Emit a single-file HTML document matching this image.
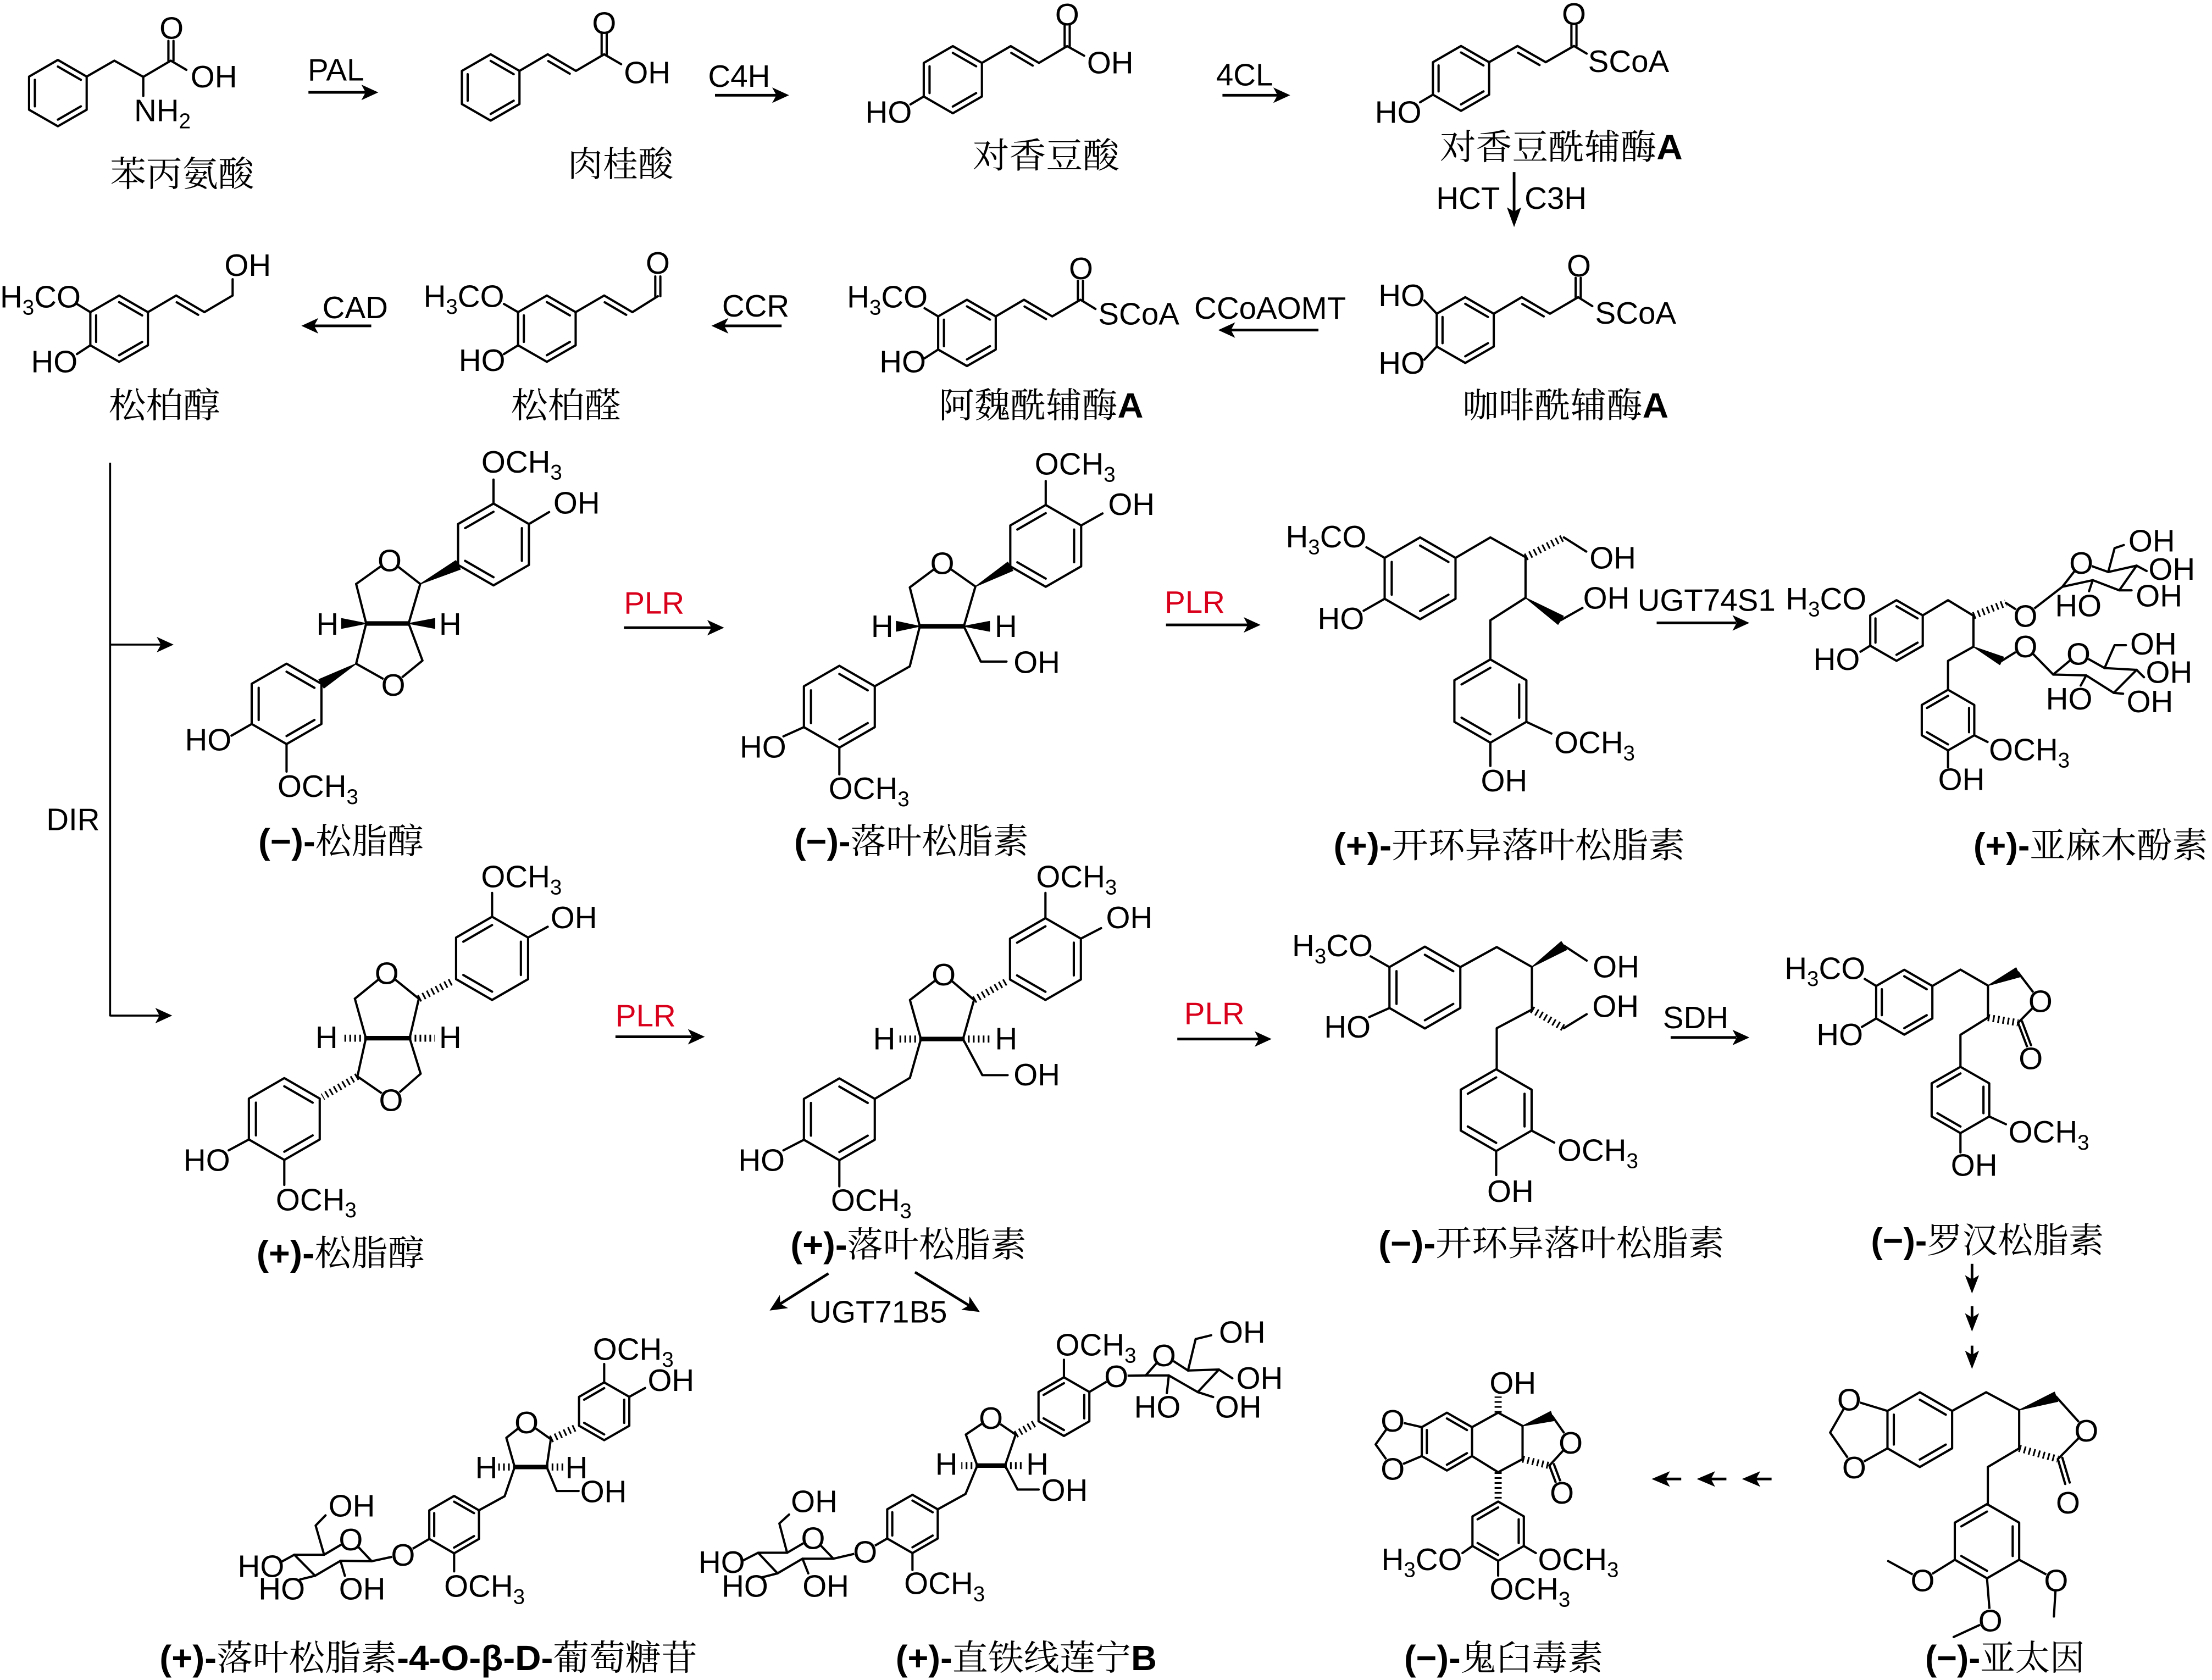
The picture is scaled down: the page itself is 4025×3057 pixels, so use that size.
<!DOCTYPE html>
<html><head><meta charset="utf-8">
<style>
html,body{margin:0;padding:0;background:#fff;}
svg{display:block;}
.b{stroke:#000;stroke-width:1.6;fill:none;stroke-linejoin:round;stroke-linecap:round;}
.bb{stroke:#000;stroke-width:3.2;fill:none;}
.ar{stroke:#000;stroke-width:1.9;fill:none;}
.hd{fill:#000;stroke:none;}
.w{fill:#000;stroke:#000;stroke-width:0.6;stroke-linejoin:round;}
.hs{stroke:#000;stroke-width:5;stroke-dasharray:1.2 2.3;fill:none;}
.t{font-family:"Liberation Sans",Arial,sans-serif;font-size:22px;fill:#000;}
.o{font-family:"Liberation Sans",Arial,sans-serif;font-size:22px;fill:#000;text-anchor:middle;}
.oc{fill:#fff;stroke:none;}
.s{font-size:15px;}
.c{font-family:"Liberation Sans","Noto Serif CJK SC",serif;font-size:25px;fill:#000;}
.r{fill:#d9001b;}
</style></head><body>
<svg width="4025" height="3057" viewBox="0 0 1567 1191" preserveAspectRatio="none" xmlns="http://www.w3.org/2000/svg">
<rect x="0" y="0" width="1567" height="1191" fill="#fff"/>

<!-- ===== Row 1 ===== -->
<!-- Phenylalanine -->
<polygon class="b" points="41,42.5 61.4,54.3 61.4,77.8 41,89.5 20.6,77.8 20.6,54.3"/>
<path class="b" d="M41,47.2L57.3,56.6M24.7,56.6L24.7,75.4M57.3,75.4L41,84.8"/>
<polyline class="b" points="61.4,54.3 81,43 101.5,54.5 121,43 132,49.5"/>
<path class="b" d="M119.3,43V29M122.9,43V29M101.5,54.5V68"/>
<text class="t" x="121.5" y="27.5" text-anchor="middle">O</text>
<text class="t" x="135" y="62">OH</text>
<text class="t" x="95" y="86">NH<tspan class="s" dy="5">2</tspan></text>
<text class="c" x="78" y="132" textLength="102" lengthAdjust="spacingAndGlyphs">苯丙氨酸</text>

<!-- PAL -->
<path class="ar" d="M218.5,65.5H259"/>
<path class="hd" d="M268,65.5L256,60L259,65.5L256,71Z"/>
<text class="t" x="218" y="57">PAL</text>

<!-- Cinnamic acid -->
<polygon class="b" points="347.6,38.5 368,50.25 368,73.75 347.6,85.5 327.2,73.75 327.2,50.25"/>
<path class="b" d="M347.6,43.2L363.9,52.6M331.3,52.6L331.3,71.4M363.9,71.4L347.6,80.8"/>
<polyline class="b" points="368,50.25 388,38.5 408,50.25 428,38.5 440,45.5"/>
<path class="b" d="M388.4,43.3L403.6,52.25M426.2,38.5V24M429.8,38.5V24"/>
<text class="t" x="428" y="24" text-anchor="middle">O</text>
<text class="t" x="442" y="59">OH</text>
<text class="c" x="402" y="125" textLength="75" lengthAdjust="spacingAndGlyphs">肉桂酸</text>

<!-- C4H -->
<path class="ar" d="M506.5,67.5H550"/>
<path class="hd" d="M559,67.5L547,62L550,67.5L547,73Z"/>
<text class="t" x="501.6" y="61.5">C4H</text>

<!-- p-Coumaric acid -->
<polygon class="b" points="675,32.7 695.6,44.6 695.6,68.4 675,80.3 654.4,68.4 654.4,44.6"/>
<path class="b" d="M675,37.5L691.5,47M658.5,47L658.5,66M691.5,66L675,75.5"/>
<path class="b" d="M654.4,68.4L645,74"/>
<text class="t" x="613" y="87">HO</text>
<polyline class="b" points="695.6,44.6 716,32.7 736,44.6 756,32.7 768,39.5"/>
<path class="b" d="M716.4,37.5L731.6,46.5M754.2,32.7V18M757.8,32.7V18"/>
<text class="t" x="756" y="18" text-anchor="middle">O</text>
<text class="t" x="770" y="52">OH</text>
<text class="c" x="689" y="119" textLength="104" lengthAdjust="spacingAndGlyphs">对香豆酸</text>

<!-- 4CL -->
<path class="ar" d="M866,67.5H905"/>
<path class="hd" d="M914,67.5L902,62L905,67.5L902,73Z"/>
<text class="t" x="861.5" y="60.5">4CL</text>

<!-- p-Coumaroyl CoA -->
<polygon class="b" points="1035,32.6 1054.9,44.1 1054.9,67.1 1035,78.6 1015.1,67.1 1015.1,44.1"/>
<path class="b" d="M1035,37.2L1050.9,46.4M1019.1,46.4L1019.1,64.8M1050.9,64.8L1035,74"/>
<path class="b" d="M1015.1,67.1L1006,72.5"/>
<text class="t" x="974" y="87">HO</text>
<polyline class="b" points="1054.9,44.1 1075,32.6 1095,44.1 1115,32.6 1124,38"/>
<path class="b" d="M1075.4,37.4L1090.6,46.1M1113.2,32.6V18M1116.8,32.6V18"/>
<text class="t" x="1115" y="17.5" text-anchor="middle">O</text>
<text class="t" x="1125" y="51">SCoA</text>
<text class="c" x="1020" y="113" textLength="172" lengthAdjust="spacingAndGlyphs">对香豆酰辅酶<tspan font-weight="bold">A</tspan></text>

<!-- HCT / C3H -->
<path class="ar" d="M1072.6,122V150"/>
<path class="hd" d="M1072.6,161L1067.5,147L1072.6,150L1077.7,147Z"/>
<text class="t" x="1017.4" y="148">HCT</text>
<text class="t" x="1080" y="148">C3H</text>

<!-- Caffeoyl CoA -->
<polygon class="b" points="1038,210.7 1058.2,222.4 1058.2,245.7 1038,257.3 1017.8,245.7 1017.8,222.4"/>
<path class="b" d="M1038,215.4L1054.1,224.7M1021.9,224.7L1021.9,243.3M1054.1,243.3L1038,252.6"/>
<path class="b" d="M1017.8,222.4L1009,213M1017.8,245.7L1009,255"/>
<text class="t" x="976.5" y="217">HO</text>
<text class="t" x="976.5" y="265">HO</text>
<polyline class="b" points="1058.2,222.4 1078,210.7 1098,222.4 1118,210.7 1128,217"/>
<path class="b" d="M1078.4,215.5L1093.6,224.3M1116.2,210.7V197M1119.8,210.7V197"/>
<text class="t" x="1118.5" y="196" text-anchor="middle">O</text>
<text class="t" x="1130" y="229.5">SCoA</text>
<text class="c" x="1036" y="296" textLength="146" lengthAdjust="spacingAndGlyphs">咖啡酰辅酶<tspan font-weight="bold">A</tspan></text>

<!-- CCoAOMT -->
<path class="ar" d="M872,234H934"/>
<path class="hd" d="M863,234L875,228.5L872,234L875,239.5Z"/>
<text class="t" x="846" y="226">CCoAOMT</text>

<!-- Feruloyl CoA -->
<polygon class="b" points="685,212.5 705.4,224.3 705.4,247.8 685,259.5 664.6,247.8 664.6,224.3"/>
<path class="b" d="M685,217.2L701.3,226.6M668.7,226.6L668.7,245.4M701.3,245.4L685,254.8"/>
<path class="b" d="M664.6,224.3L655,218.5M664.6,247.8L655,254"/>
<text class="t" x="600" y="218">H<tspan class="s" dy="5">3</tspan><tspan dy="-5">CO</tspan></text>
<text class="t" x="623" y="264">HO</text>
<polyline class="b" points="705.4,224.3 725.4,212.5 745.4,224.3 765.4,212.5 776,219"/>
<path class="b" d="M725.8,217.3L741,226.2M763.6,212.5V199M767.2,212.5V199"/>
<text class="t" x="765.8" y="198" text-anchor="middle">O</text>
<text class="t" x="778" y="230">SCoA</text>
<text class="c" x="665" y="296" textLength="145" lengthAdjust="spacingAndGlyphs">阿魏酰辅酶<tspan font-weight="bold">A</tspan></text>

<!-- CCR -->
<path class="ar" d="M513,231H553.7"/>
<path class="hd" d="M504,231L516,225.5L513,231L516,236.5Z"/>
<text class="t" x="511.5" y="224.5">CCR</text>

<!-- Coniferaldehyde -->
<polygon class="b" points="387.4,209.5 407.8,221.3 407.8,244.8 387.4,256.5 367,244.8 367,221.3"/>
<path class="b" d="M387.4,214.2L403.7,223.6M371.1,223.6L371.1,242.4M403.7,242.4L387.4,251.8"/>
<path class="b" d="M367,221.3L357,215.5M367,244.8L357,251"/>
<text class="t" x="300" y="217.5">H<tspan class="s" dy="5">3</tspan><tspan dy="-5">CO</tspan></text>
<text class="t" x="325" y="263">HO</text>
<polyline class="b" points="407.8,221.3 428,209.5 448,221.3 466,210"/>
<path class="b" d="M428.4,214.3L443.6,223.2M464.2,210V196M467.8,210V196"/>
<text class="t" x="466" y="194" text-anchor="middle">O</text>
<text class="c" x="362" y="296" textLength="78" lengthAdjust="spacingAndGlyphs">松柏醛</text>

<!-- CAD -->
<path class="ar" d="M222.5,231H263"/>
<path class="hd" d="M213.5,231L225.5,225.5L222.5,231L225.5,236.5Z"/>
<text class="t" x="228.4" y="225.5">CAD</text>

<!-- Coniferyl alcohol -->
<polygon class="b" points="84.4,209.5 104.8,221.3 104.8,244.8 84.4,256.5 64,244.8 64,221.3"/>
<path class="b" d="M84.4,214.2L100.7,223.6M68.1,223.6L68.1,242.4M100.7,242.4L84.4,251.8"/>
<path class="b" d="M64,221.3L54.5,215.5M64,244.8L54.5,251"/>
<text class="t" x="0" y="218">H<tspan class="s" dy="5">3</tspan><tspan dy="-5">CO</tspan></text>
<text class="t" x="22" y="264">HO</text>
<polyline class="b" points="104.8,221.3 124.8,209.5 144.8,221.3 164.8,209.5 164.8,198"/>
<path class="b" d="M125.2,214.3L140.4,223.2"/>
<text class="t" x="159" y="195.5">OH</text>
<text class="c" x="77" y="296" textLength="79" lengthAdjust="spacingAndGlyphs">松柏醇</text>

<!-- ===== DIR bracket ===== -->
<path class="ar" style="stroke-width:1.4" d="M78,328V720.5M78,457H114M78,720H113"/>
<path class="hd" d="M123,457L111,451.5L114,457L111,462.5Z"/>
<path class="hd" d="M122,720L110,714.5L113,720L110,725.5Z"/>
<text class="t" x="32.8" y="588.5">DIR</text>

<!-- ===== Row 2 ===== -->
<!-- (-)-Pinoresinol -->
<polygon class="b" points="349.6,357 374.7,371.5 374.7,400.5 349.6,415 324.5,400.5 324.5,371.5"/>
<path class="b" d="M329.5,374.4L349.6,362.8M369.7,374.4L369.7,397.6M349.6,409.2L329.5,397.6"/>
<path class="b" d="M349.6,357V340M374.7,371.5L389,363"/>
<text class="t" x="341" y="335">OCH<tspan class="s" dy="5">3</tspan></text>
<text class="t" x="392" y="364">OH</text>
<polyline class="b" points="252.3,414 276,397 297.7,414 289.5,442"/>
<polyline class="b" points="252.3,414 259.4,442 252.3,470.5 278.6,485.3 299.3,468.3 289.5,442"/>
<path class="bb" d="M259.4,442H289.5"/>
<polygon class="w" points="297.7,414 326.1,403.6 322.9,397.4"/>
<polygon class="w" points="259.4,442 242,438.5 242,445.5"/>
<polygon class="w" points="289.5,442 308,438.5 308,445.5"/>
<polygon class="w" points="252.3,470.5 225.9,481.7 229.5,487.8"/>
<circle class="oc" cx="276" cy="397" r="8"/><text class="o" x="276" y="405">O</text>
<circle class="oc" cx="278.6" cy="485.3" r="8"/><text class="o" x="278.6" y="493.3">O</text>
<text class="t" x="224" y="450">H</text>
<text class="t" x="311" y="450">H</text>
<polygon class="b" points="203,470.5 227.7,484.75 227.7,513.25 203,527.5 178.3,513.25 178.3,484.75"/>
<path class="b" d="M203,476.2L222.75,487.6M183.25,487.6L183.25,510.4M222.75,510.4L203,521.8"/>
<path class="b" d="M178.3,513.25L164,521.5M203,527.5V547"/>
<text class="t" x="131" y="532">HO</text>
<text class="t" x="196.6" y="565">OCH<tspan class="s" dy="5">3</tspan></text>
<text class="c" x="183" y="605" textLength="117" lengthAdjust="spacingAndGlyphs"><tspan font-weight="bold">(−)-</tspan>松脂醇</text>

<!-- PLR 1 -->
<text class="t r" x="442" y="435">PLR</text>
<path class="ar" d="M442,445H504"/>
<path class="hd" d="M513,445L501,439.5L504,445L501,450.5Z"/>

<!-- (-)-Lariciresinol -->
<polygon class="b" points="740.8,358 765.9,372.5 765.9,401.5 740.8,416 715.7,401.5 715.7,372.5"/>
<path class="b" d="M720.7,375.4L740.8,363.8M760.9,375.4L760.9,398.6M740.8,410.2L720.7,398.6"/>
<path class="b" d="M740.8,358V341M765.9,372.5L781,364"/>
<text class="t" x="733" y="336.5">OCH<tspan class="s" dy="5">3</tspan></text>
<text class="t" x="785" y="365">OH</text>
<polyline class="b" points="651.6,444 644.5,416.4 667.5,399.2 691,415.8 682.8,444"/>
<path class="bb" d="M651.6,444H682.8"/>
<polygon class="w" points="691,415.8 717.5,404.5 713.9,398.5"/>
<polygon class="w" points="651.6,444 635,440.5 635,447.5"/>
<polygon class="w" points="682.8,444 701,440.5 701,447.5"/>
<circle class="oc" cx="667.5" cy="399" r="8"/><text class="o" x="667.5" y="407">O</text>
<text class="t" x="617" y="451.5">H</text>
<text class="t" x="704.6" y="451.5">H</text>
<polyline class="b" points="682.8,444 694.8,469 713,469"/>
<text class="t" x="718" y="477">OH</text>
<polyline class="b" points="651.6,444 644.5,472.4 619.7,486.5"/>
<polygon class="b" points="594.6,472 619.7,486.5 619.7,515.5 594.6,530 569.5,515.5 569.5,486.5"/>
<path class="b" d="M594.6,477.8L614.7,489.4M574.5,489.4L574.5,512.6M614.7,512.6L594.6,524.2"/>
<path class="b" d="M569.5,515.5L555,522M594.6,530V549"/>
<text class="t" x="524" y="537">HO</text>
<text class="t" x="587" y="566.5">OCH<tspan class="s" dy="5">3</tspan></text>
<text class="c" x="562.6" y="605" textLength="166" lengthAdjust="spacingAndGlyphs"><tspan font-weight="bold">(−)-</tspan>落叶松脂素</text>

<!-- PLR 2 -->
<text class="t r" x="825" y="434.5">PLR</text>
<path class="ar" d="M826,443H884"/>
<path class="hd" d="M893,443L881,437.5L884,443L881,448.5Z"/>

<!-- (+)-Secoisolariciresinol -->
<polygon class="b" points="1006,381 1031.1,395.5 1031.1,424.5 1006,439 980.9,424.5 980.9,395.5"/>
<path class="b" d="M1006,386.8L1026.1,398.4M985.9,398.4L985.9,421.6M1026.1,421.6L1006,433.2"/>
<path class="b" d="M980.9,395.5L968,388M980.9,424.5L966,433"/>
<text class="t" x="910.8" y="388">H<tspan class="s" dy="5">3</tspan><tspan dy="-5">CO</tspan></text>
<text class="t" x="933.4" y="446">HO</text>
<polyline class="b" points="1031.1,395.5 1055.8,381 1080.7,395 1080.7,423.8 1055.8,439.7 1055.8,467.5"/>
<path class="hs" d="M1080.7,395L1107.9,381"/>
<path class="b" d="M1107.9,381L1123.7,391"/>
<text class="t" x="1126" y="403">OH</text>
<polygon class="w" points="1080.7,423.8 1103.7,442.65 1107.5,436.75"/>
<path class="b" d="M1105.6,439.7L1121,431"/>
<text class="t" x="1121.5" y="431.5">OH</text>
<polygon class="b" points="1055.8,467.5 1081.3,482.25 1081.3,511.75 1055.8,526.5 1030.3,511.75 1030.3,482.25"/>
<path class="b" d="M1035.4,485.2L1055.8,473.4M1076.2,485.2L1076.2,508.8M1055.8,520.6L1035.4,508.8"/>
<path class="b" d="M1081.3,511.75L1099,520M1055.8,526.5V543"/>
<text class="t" x="1101" y="534">OCH<tspan class="s" dy="5">3</tspan></text>
<text class="t" x="1049" y="561">OH</text>
<text class="c" x="944.7" y="608" textLength="249" lengthAdjust="spacingAndGlyphs"><tspan font-weight="bold">(+)-</tspan>开环异落叶松脂素</text>

<!-- UGT74S1 -->
<text class="t" x="1160" y="433">UGT74S1</text>
<path class="ar" d="M1173.6,441.6H1230"/>
<path class="hd" d="M1239.3,441.6L1227.3,436.1L1230.3,441.6L1227.3,447.1Z"/>

<!-- (+)-Secoisolariciresinol diglucoside -->
<text class="t" x="1265" y="432">H<tspan class="s" dy="5">3</tspan><tspan dy="-5">CO</tspan></text>
<polygon class="b" points="1343.5,425.5 1362.1,436.25 1362.1,457.75 1343.5,468.5 1324.9,457.75 1324.9,436.25"/>
<path class="b" d="M1343.5,429.8L1358.4,438.4M1328.6,438.4L1328.6,455.6M1358.4,455.6L1343.5,464.2"/>
<path class="b" d="M1324.9,457.75L1318,462"/>
<text class="t" x="1284.6" y="475">HO</text>
<polyline class="b" points="1362.1,436.25 1380,425.5 1398,436.5 1398,458.5 1380,468.5 1380,489"/>
<path class="hs" d="M1398,436.5L1421,427.5"/>
<path class="b" d="M1421,427.5L1434.8,436.3"/>
<polygon class="w" points="1398,458.5 1416.7,471.2 1419.3,465.8"/>
<path class="b" d="M1418,468.5L1434.8,458"/>
<polygon class="b" points="1380,489 1398.6,499.75 1398.6,521.25 1380,532 1361.4,521.25 1361.4,499.75"/>
<path class="b" d="M1365.1,501.9L1380,493.3M1394.9,501.9L1394.9,519.1M1380,527.7L1365.1,519.1"/>
<path class="b" d="M1398.6,521.25L1408,526M1380,532V544"/>
<text class="t" x="1409" y="539">OCH<tspan class="s" dy="5">3</tspan></text>
<text class="t" x="1373" y="560">OH</text>
<!-- upper glucose -->
<path class="b" d="M1434.8,436.3L1461,416L1474.4,398.7L1493.5,405.5L1513.6,401L1501.3,418.5L1482.5,411.3L1461,416"/>
<path class="b" d="M1493.5,405.5L1498,388.6L1504.5,386.4M1513.6,401L1520.7,404.8M1501.3,418.5L1510,418.5M1482.5,411.3L1479.9,419.1"/>
<circle class="oc" cx="1434.8" cy="436.3" r="8"/><text class="o" x="1434.8" y="444.3">O</text>
<circle class="oc" cx="1474.4" cy="398.7" r="8"/><text class="o" x="1474.4" y="406.7">O</text>
<text class="t" x="1507.8" y="391">OH</text>
<text class="t" x="1522" y="411">OH</text>
<text class="t" x="1513" y="430">OH</text>
<text class="t" x="1455.8" y="437">HO</text>
<!-- lower glucose -->
<path class="b" d="M1434.8,458L1454.5,478.2L1472.4,463.2L1490.9,473.6L1513.6,474.9L1497.4,491.2L1477.9,478.8L1454.5,478.2"/>
<path class="b" d="M1490.9,473.6L1498,457.4L1506,457.4M1513.6,474.9L1518.8,480.1M1497.4,491.2L1504,491.8M1477.9,478.8L1474,486"/>
<circle class="oc" cx="1434.8" cy="458" r="8"/><text class="o" x="1434.8" y="466">O</text>
<circle class="oc" cx="1472.4" cy="463.2" r="8"/><text class="o" x="1472.4" y="471.2">O</text>
<text class="t" x="1509" y="464">OH</text>
<text class="t" x="1520.1" y="484">OH</text>
<text class="t" x="1506.5" y="505">OH</text>
<text class="t" x="1449.3" y="503">HO</text>
<text class="c" x="1398" y="608" textLength="166" lengthAdjust="spacingAndGlyphs"><tspan font-weight="bold">(+)-</tspan>亚麻木酚素</text>

<!-- ===== Row 3 ===== -->
<!-- (+)-Pinoresinol -->
<polygon class="b" points="348.6,649.9 374.1,664.65 374.1,694.15 348.6,708.9 323.1,694.15 323.1,664.65"/>
<path class="b" d="M328.2,667.6L348.6,655.8M369,667.6L369,691.2M348.6,703L328.2,691.2"/>
<path class="b" d="M348.6,649.9V633M374.1,664.65L388,657"/>
<text class="t" x="340.8" y="629">OCH<tspan class="s" dy="5">3</tspan></text>
<text class="t" x="390" y="658">OH</text>
<polyline class="b" points="251.4,708 274,689.6 296.7,708 290.2,736"/>
<polyline class="b" points="251.4,708 259.2,736 253.2,763.1 277,779.6 298,761.2 290.2,736"/>
<path class="bb" d="M259.2,736H290.2"/>
<path class="hs" d="M296.7,708L321,695.3M259.2,736H242M290.2,736H308M253.2,763.1L228.5,777.6"/>
<circle class="oc" cx="274" cy="689.6" r="8"/><text class="o" x="274" y="697.6">O</text>
<circle class="oc" cx="277" cy="779.6" r="8"/><text class="o" x="277" y="787.6">O</text>
<text class="t" x="223.4" y="743">H</text>
<text class="t" x="311" y="743">H</text>
<polygon class="b" points="201.4,764.3 226.5,778.8 226.5,807.8 201.4,822.3 176.3,807.8 176.3,778.8"/>
<path class="b" d="M201.4,770.1L221.5,781.7M181.3,781.7L181.3,804.9M221.5,804.9L201.4,816.5"/>
<path class="b" d="M176.3,807.8L162,815.5M201.4,822.3V840"/>
<text class="t" x="130" y="830">HO</text>
<text class="t" x="195.4" y="858">OCH<tspan class="s" dy="5">3</tspan></text>
<text class="c" x="181.7" y="897" textLength="119" lengthAdjust="spacingAndGlyphs"><tspan font-weight="bold">(+)-</tspan>松脂醇</text>

<!-- PLR row3-1 -->
<text class="t r" x="436" y="727.5">PLR</text>
<path class="ar" d="M436,735H490"/>
<path class="hd" d="M499.3,735L487.3,729.5L490.3,735L487.3,740.5Z"/>

<!-- (+)-Lariciresinol -->
<polygon class="b" points="740.6,650.9 765.7,665.4 765.7,694.4 740.6,708.9 715.5,694.4 715.5,665.4"/>
<path class="b" d="M720.5,668.3L740.6,656.7M760.7,668.3L760.7,691.5M740.6,703.1L720.5,691.5"/>
<path class="b" d="M740.6,650.9V633M765.7,665.4L780,658"/>
<text class="t" x="734" y="629">OCH<tspan class="s" dy="5">3</tspan></text>
<text class="t" x="783.5" y="658">OH</text>
<polyline class="b" points="652.4,736.6 644.6,708.9 668.5,690.5 690,708.9 682.2,736.6"/>
<path class="bb" d="M652.4,736.6H682.2"/>
<path class="hs" d="M690,708.9L713.5,695.5M652.4,736.6H635M682.2,736.6H701"/>
<circle class="oc" cx="668.5" cy="690.5" r="8"/><text class="o" x="668.5" y="698.5">O</text>
<text class="t" x="618.5" y="744">H</text>
<text class="t" x="704.8" y="744">H</text>
<polyline class="b" points="682.2,736.6 695.9,762.2 713.8,762.2"/>
<text class="t" x="718" y="769.5">OH</text>
<polyline class="b" points="652.4,736.6 644.6,764.1 619.7,779"/>
<polygon class="b" points="594.6,764.5 619.7,779 619.7,808 594.6,822.5 569.5,808 569.5,779"/>
<path class="b" d="M594.6,770.3L614.7,781.9M574.5,781.9L574.5,805.1M614.7,805.1L594.6,816.7"/>
<path class="b" d="M569.5,808L555,815.5M594.6,822.5V841"/>
<text class="t" x="523" y="830">HO</text>
<text class="t" x="588.6" y="858.5">OCH<tspan class="s" dy="5">3</tspan></text>
<text class="c" x="560" y="891" textLength="167" lengthAdjust="spacingAndGlyphs"><tspan font-weight="bold">(+)-</tspan>落叶松脂素</text>

<!-- PLR row3-2 -->
<text class="t r" x="838.9" y="726">PLR</text>
<path class="ar" d="M834,736.6H892"/>
<path class="hd" d="M900.8,736.6L888.8,731.1L891.8,736.6L888.8,742.1Z"/>

<!-- (-)-Secoisolariciresinol -->
<polygon class="b" points="1009.4,671.1 1034.5,685.6 1034.5,714.6 1009.4,729.1 984.3,714.6 984.3,685.6"/>
<path class="b" d="M1009.4,676.9L1029.5,688.5M989.3,688.5L989.3,711.7M1029.5,711.7L1009.4,723.3"/>
<path class="b" d="M984.3,685.6L971,678M984.3,714.6L970,721"/>
<text class="t" x="915.3" y="678">H<tspan class="s" dy="5">3</tspan><tspan dy="-5">CO</tspan></text>
<text class="t" x="938" y="735.5">HO</text>
<polyline class="b" points="1034.5,685.6 1060.3,671.4 1085.2,685.5 1085.2,715.7 1060.3,728.9 1060.3,758"/>
<polygon class="w" points="1085.2,685.5 1109.8,673.3 1106,667.5"/>
<path class="b" d="M1107.9,670.4L1124,681"/>
<text class="t" x="1128.3" y="693">OH</text>
<path class="hs" d="M1085.2,715.7L1107.9,728.9"/>
<path class="b" d="M1107.9,728.9L1124,719"/>
<text class="t" x="1128" y="721">OH</text>
<polygon class="b" points="1059.9,758 1085,772.5 1085,801.5 1059.9,816 1034.8,801.5 1034.8,772.5"/>
<path class="b" d="M1039.8,775.4L1059.9,763.8M1080,775.4L1080,798.6M1059.9,810.2L1039.8,798.6"/>
<path class="b" d="M1085,801.5L1101,810M1059.9,816V833"/>
<text class="t" x="1103.3" y="823">OCH<tspan class="s" dy="5">3</tspan></text>
<text class="t" x="1053.5" y="852">OH</text>
<text class="c" x="976.5" y="890" textLength="245" lengthAdjust="spacingAndGlyphs"><tspan font-weight="bold">(−)-</tspan>开环异落叶松脂素</text>

<!-- SDH -->
<text class="t" x="1178" y="729">SDH</text>
<path class="ar" d="M1183.5,735.5H1230"/>
<path class="hd" d="M1239.3,735.5L1227.3,730L1230.3,735.5L1227.3,741Z"/>

<!-- (-)-Matairesinol -->
<polygon class="b" points="1349,687.5 1368.9,699 1368.9,722 1349,733.5 1329.1,722 1329.1,699"/>
<path class="b" d="M1349,692.1L1364.9,701.3M1333.1,701.3L1333.1,719.7M1364.9,719.7L1349,728.9"/>
<path class="b" d="M1329.1,699L1321,694M1329.1,722L1319,728"/>
<text class="t" x="1264.2" y="694">H<tspan class="s" dy="5">3</tspan><tspan dy="-5">CO</tspan></text>
<text class="t" x="1286.8" y="741">HO</text>
<polyline class="b" points="1368.9,699 1388.8,687.4 1408.3,698.7 1408.3,721.4 1388.8,733.6 1388.8,756.3"/>
<polygon class="w" points="1408.3,698.7 1431,692.5 1428.2,686.1"/>
<polyline class="b" points="1429.6,689.3 1445,709.5 1429.6,725.1"/>
<path class="hs" d="M1408.3,721.4L1429.6,725.1"/>
<path class="b" d="M1429.6,725.1L1436,742M1432.4,724L1438.8,741"/>
<circle class="oc" cx="1445.5" cy="709.5" r="8"/><text class="o" x="1445.5" y="717.5">O</text>
<circle class="oc" cx="1438.6" cy="750" r="8"/><text class="o" x="1438.6" y="758">O</text>
<polygon class="b" points="1388.8,756.3 1409.2,768 1409.2,791.5 1388.8,803.3 1368.4,791.5 1368.4,768"/>
<path class="b" d="M1372.5,770.4L1388.8,761M1405.1,770.4L1405.1,789.2M1388.8,798.6L1372.5,789.2"/>
<path class="b" d="M1409.2,791.5L1421,797M1388.8,803.3V817"/>
<text class="t" x="1422.8" y="810">OCH<tspan class="s" dy="5">3</tspan></text>
<text class="t" x="1382" y="833.5">OH</text>
<text class="c" x="1325.4" y="888" textLength="165" lengthAdjust="spacingAndGlyphs"><tspan font-weight="bold">(−)-</tspan>罗汉松脂素</text>

<!-- three down arrows -->
<path class="ar" d="M1397,896V908M1397,926V935M1397,954V961.5"/>
<path class="hd" d="M1397,917L1392,904L1397,907L1402,904Z"/>
<path class="hd" d="M1397,944L1392,931L1397,934L1402,931Z"/>
<path class="hd" d="M1397,970.5L1392,957.5L1397,960.5L1402,957.5Z"/>

<!-- (-)-Yatein -->
<polygon class="b" points="1360,987 1382.9,1000.25 1382.9,1026.75 1360,1040 1337.1,1026.75 1337.1,1000.25"/>
<path class="b" d="M1360,992.3L1378.4,1002.9M1341.6,1002.9L1341.6,1024.1M1378.4,1024.1L1360,1034.7"/>
<polyline class="b" points="1337.1,1000.25 1310,992 1296.5,1015.6 1313.5,1040 1337.1,1026.75"/>
<polyline class="b" points="1382.9,1000.25 1407,987 1430.4,999.6 1430.4,1026.8 1408.2,1040 1408.2,1066.3"/>
<polygon class="w" points="1430.4,999.6 1457.8,993.5 1455.4,986.9"/>
<polyline class="b" points="1456.6,990.2 1478,1014 1457.8,1034.4"/>
<path class="hs" d="M1430.4,1026.8L1457.8,1034.4"/>
<path class="b" d="M1457.8,1034.4L1463,1052M1461,1033.5L1466.2,1051"/>
<polygon class="b" points="1407.6,1066.3 1430.4,1079.45 1430.4,1105.75 1407.6,1118.9 1384.8,1105.75 1384.8,1079.45"/>
<path class="b" d="M1389.4,1082.1L1407.6,1071.6M1425.8,1082.1L1425.8,1103.1M1407.6,1113.6L1389.4,1103.1"/>
<path class="b" d="M1384.8,1105.75L1362,1120L1337.6,1106.7M1430.4,1105.75L1456.6,1120L1455,1146M1407.6,1118.9L1410,1148.5L1384,1160.5"/>
<circle class="oc" cx="1310" cy="992" r="8"/><text class="o" x="1310" y="1000">O</text>
<circle class="oc" cx="1313.5" cy="1040" r="8"/><text class="o" x="1313.5" y="1048">O</text>
<circle class="oc" cx="1478" cy="1014" r="8"/><text class="o" x="1478" y="1022">O</text>
<circle class="oc" cx="1465" cy="1065" r="8"/><text class="o" x="1465" y="1073">O</text>
<circle class="oc" cx="1362" cy="1120" r="8"/><text class="o" x="1362" y="1128">O</text>
<circle class="oc" cx="1456.6" cy="1120" r="8"/><text class="o" x="1456.6" y="1128">O</text>
<circle class="oc" cx="1410" cy="1148.5" r="8"/><text class="o" x="1410" y="1156.5">O</text>
<text class="c" x="1363.8" y="1184" textLength="113" lengthAdjust="spacingAndGlyphs"><tspan font-weight="bold">(−)-</tspan>亚太因</text>

<!-- three left arrows -->
<path class="ar" d="M1180,1048.5H1191M1212,1048.5H1223M1244,1048.5H1255"/>
<path class="hd" d="M1170,1048.5L1183,1043L1180,1048.5L1183,1054Z"/>
<path class="hd" d="M1202,1048.5L1215,1043L1212,1048.5L1215,1054Z"/>
<path class="hd" d="M1234,1048.5L1247,1043L1244,1048.5L1247,1054Z"/>

<!-- (-)-Podophyllotoxin -->
<polygon class="b" points="1025,1001.5 1042.8,1011.75 1042.8,1032.25 1025,1042.5 1007.2,1032.25 1007.2,1011.75"/>
<path class="b" d="M1025,1005.6L1039.2,1013.8M1010.8,1013.8L1010.8,1030.2M1039.2,1030.2L1025,1038.4"/>
<polyline class="b" points="1007.2,1011.75 986.6,1007 974.5,1024 986.6,1041 1007.2,1032.25"/>
<polyline class="b" points="1042.8,1011.75 1061.3,1001.5 1078.6,1010.9 1078.6,1034.4 1061.3,1043.7 1042.8,1032.25"/>
<path class="hs" d="M1061.3,1001.5V990"/>
<text class="t" x="1055.2" y="988">OH</text>
<polygon class="w" points="1078.6,1010.9 1100.7,1007.2 1098.5,1000.6"/>
<polyline class="b" points="1099.6,1003.9 1112.7,1022.5 1097.6,1039"/>
<path class="hs" d="M1078.6,1034.4L1097.6,1039"/>
<path class="b" d="M1097.6,1039L1102.5,1052M1100.8,1038L1105.7,1051"/>
<path class="hs" d="M1061.3,1043.7V1064.5"/>
<polygon class="b" points="1061.3,1064.5 1079.5,1075 1079.5,1096 1061.3,1106.5 1043.1,1096 1043.1,1075"/>
<path class="b" d="M1046.75,1077.1L1061.3,1068.7M1075.85,1077.1L1075.85,1093.9M1061.3,1102.3L1046.75,1093.9"/>
<path class="b" d="M1043.1,1096L1036,1101M1079.5,1096L1088,1101M1061.3,1106.5V1117"/>
<circle class="oc" cx="986.6" cy="1007" r="8"/><text class="o" x="986.6" y="1015">O</text>
<circle class="oc" cx="986.6" cy="1041" r="8"/><text class="o" x="986.6" y="1049">O</text>
<circle class="oc" cx="1112.7" cy="1022.5" r="8"/><text class="o" x="1112.7" y="1030.5">O</text>
<circle class="oc" cx="1106.5" cy="1058" r="8"/><text class="o" x="1106.5" y="1066">O</text>
<text class="t" x="978.6" y="1113">H<tspan class="s" dy="5">3</tspan><tspan dy="-5">CO</tspan></text>
<text class="t" x="1089.5" y="1113">OCH<tspan class="s" dy="5">3</tspan></text>
<text class="t" x="1055.2" y="1134">OCH<tspan class="s" dy="5">3</tspan></text>
<text class="c" x="994.7" y="1184" textLength="141" lengthAdjust="spacingAndGlyphs"><tspan font-weight="bold">(−)-</tspan>鬼臼毒素</text>

<!-- UGT71B5 -->
<path class="ar" d="M586.9,902.8L552.8,924.3M648.2,901.9L686.4,925.4"/>
<path class="hd" d="M545.2,929.1L558.3,927.35L552.8,924.3L552.4,918.05Z"/>
<path class="hd" d="M694.1,930.1L681,928.5L686.4,925.4L686.8,919.1Z"/>
<text class="t" x="573.2" y="937.5">UGT71B5</text>

<!-- (+)-Lariciresinol-4-O-glucoside -->
<polygon class="b" points="428,980 445.8,990.25 445.8,1010.75 428,1021 410.2,1010.75 410.2,990.25"/>
<path class="b" d="M413.8,992.3L428,984.1M442.2,992.3L442.2,1008.7M428,1016.9L413.8,1008.7"/>
<path class="b" d="M428,980V967M445.8,990.25L457,984"/>
<text class="t" x="420" y="964">OCH<tspan class="s" dy="5">3</tspan></text>
<text class="t" x="458.8" y="986">OH</text>
<polyline class="b" points="364.6,1040 358.7,1019.3 373,1008 390.2,1020.3 387.3,1040"/>
<path class="bb" d="M364.6,1040H387.3"/>
<path class="hs" d="M390.2,1020.3L409,1011.5M364.6,1040H353M387.3,1040H399"/>
<circle class="oc" cx="373" cy="1008" r="8"/><text class="o" x="373" y="1016">O</text>
<text class="t" x="336.6" y="1048">H</text>
<text class="t" x="400.4" y="1048">H</text>
<polyline class="b" points="387.3,1040 394.4,1057 409.9,1057"/>
<text class="t" x="411" y="1065">OH</text>
<polyline class="b" points="364.6,1040 357.5,1060.7 339.3,1070.7"/>
<polygon class="b" points="321.7,1060.5 339.3,1070.7 339.3,1091 321.7,1101.2 304.1,1091 304.1,1070.7"/>
<path class="b" d="M321.7,1064.6L335.8,1072.7M307.6,1072.7L307.6,1089M335.8,1089L321.7,1097.1"/>
<path class="b" d="M321.7,1101.2V1114"/>
<text class="t" x="314.6" y="1132">OCH<tspan class="s" dy="5">3</tspan></text>
<path class="b" d="M304.1,1091L285.5,1102L263.3,1106.8"/>
<path class="b" d="M263.3,1106.8L248.5,1091L229.6,1102.2L208.5,1102.2L223.2,1117.1L241.2,1106.5L263.3,1106.8"/>
<path class="b" d="M229.6,1102.2L223.6,1081.5L230.6,1074.3M208.5,1102.2L199,1107.4M223.2,1117.1L212.7,1119.7M241.2,1106.5L244.3,1117.1"/>
<circle class="oc" cx="285.5" cy="1102" r="8"/><text class="o" x="285.5" y="1110">O</text>
<circle class="oc" cx="248.5" cy="1091" r="8"/><text class="o" x="248.5" y="1099">O</text>
<text class="t" x="232.7" y="1075">OH</text>
<text class="t" x="168.4" y="1118">HO</text>
<text class="t" x="183.1" y="1134">HO</text>
<text class="t" x="240.1" y="1134">OH</text>
<text class="c" x="113" y="1184" textLength="381" lengthAdjust="spacingAndGlyphs"><tspan font-weight="bold">(+)-</tspan>落叶松脂素<tspan font-weight="bold">-4-O-β-D-</tspan>葡萄糖苷</text>

<!-- (+)-Clemaphenol B -->
<polygon class="b" points="753.7,976.4 771.7,986.8 771.7,1007.6 753.7,1018 735.7,1007.6 735.7,986.8"/>
<path class="b" d="M739.3,988.9L753.7,980.6M768.1,988.9L768.1,1005.5M753.7,1013.8L739.3,1005.5"/>
<path class="b" d="M753.7,976.4V964"/>
<text class="t" x="747.7" y="961">OCH<tspan class="s" dy="5">3</tspan></text>
<path class="b" d="M771.7,986.8L790.8,975.4L811.6,975.1"/>
<path class="b" d="M811.6,975.1L824.5,960.5L841.6,971.6L863.5,970.9L848.5,986.9L828,975.1L811.6,975.1"/>
<path class="b" d="M841.6,971.6L847,949.3L858,946.6M863.5,970.9L873,977.1M848.5,986.9L859.4,990.4M828,975.1L826.6,987.6"/>
<circle class="oc" cx="790.8" cy="975.4" r="8"/><text class="o" x="790.8" y="983.4">O</text>
<circle class="oc" cx="824.5" cy="960.5" r="8"/><text class="o" x="824.5" y="968.5">O</text>
<text class="t" x="863.5" y="952">OH</text>
<text class="t" x="875.8" y="984.5">OH</text>
<text class="t" x="860.7" y="1005">OH</text>
<text class="t" x="803.4" y="1005">HO</text>
<polyline class="b" points="692.3,1039 684.2,1017 702,1005 719.5,1017 712,1039"/>
<path class="bb" d="M692.3,1039H712"/>
<path class="hs" d="M719.5,1017L734,1008.5M692.3,1039H681M712,1039H725"/>
<circle class="oc" cx="702" cy="1005" r="8"/><text class="o" x="702" y="1013">O</text>
<text class="t" x="662.5" y="1045.5">H</text>
<text class="t" x="726.9" y="1045.5">H</text>
<polyline class="b" points="712,1039 720.9,1056 735.8,1056"/>
<text class="t" x="737.6" y="1064">OH</text>
<polyline class="b" points="692.3,1039 684,1059.1 664.3,1070"/>
<polygon class="b" points="646.4,1059.7 664.3,1070 664.3,1090.7 646.4,1101 628.5,1090.7 628.5,1070"/>
<path class="b" d="M646.4,1063.8L660.7,1072.1M632.1,1072.1L632.1,1088.6M660.7,1088.6L646.4,1096.9"/>
<path class="b" d="M646.4,1101V1113"/>
<text class="t" x="640.5" y="1130">OCH<tspan class="s" dy="5">3</tspan></text>
<path class="b" d="M628.5,1090.7L612.9,1099.8L590.4,1105"/>
<path class="b" d="M590.4,1105L576,1090L557.6,1100.8L537.1,1100.8L550.8,1115.4L568.5,1105L590.4,1105"/>
<path class="b" d="M557.6,1100.8L552.1,1080L559,1073.7M537.1,1100.8L526.2,1106.4M550.8,1115.4L539.9,1118.2M568.5,1105L572.6,1115.4"/>
<circle class="oc" cx="612.9" cy="1099.8" r="8"/><text class="o" x="612.9" y="1107.8">O</text>
<circle class="oc" cx="576" cy="1090" r="8"/><text class="o" x="576" y="1098">O</text>
<text class="t" x="560.3" y="1072">OH</text>
<text class="t" x="494.8" y="1115">HO</text>
<text class="t" x="511.2" y="1132">HO</text>
<text class="t" x="568.5" y="1132">OH</text>
<text class="c" x="634.5" y="1184" textLength="185" lengthAdjust="spacingAndGlyphs"><tspan font-weight="bold">(+)-</tspan>直铁线莲宁<tspan font-weight="bold">B</tspan></text>

</svg>
</body></html>
